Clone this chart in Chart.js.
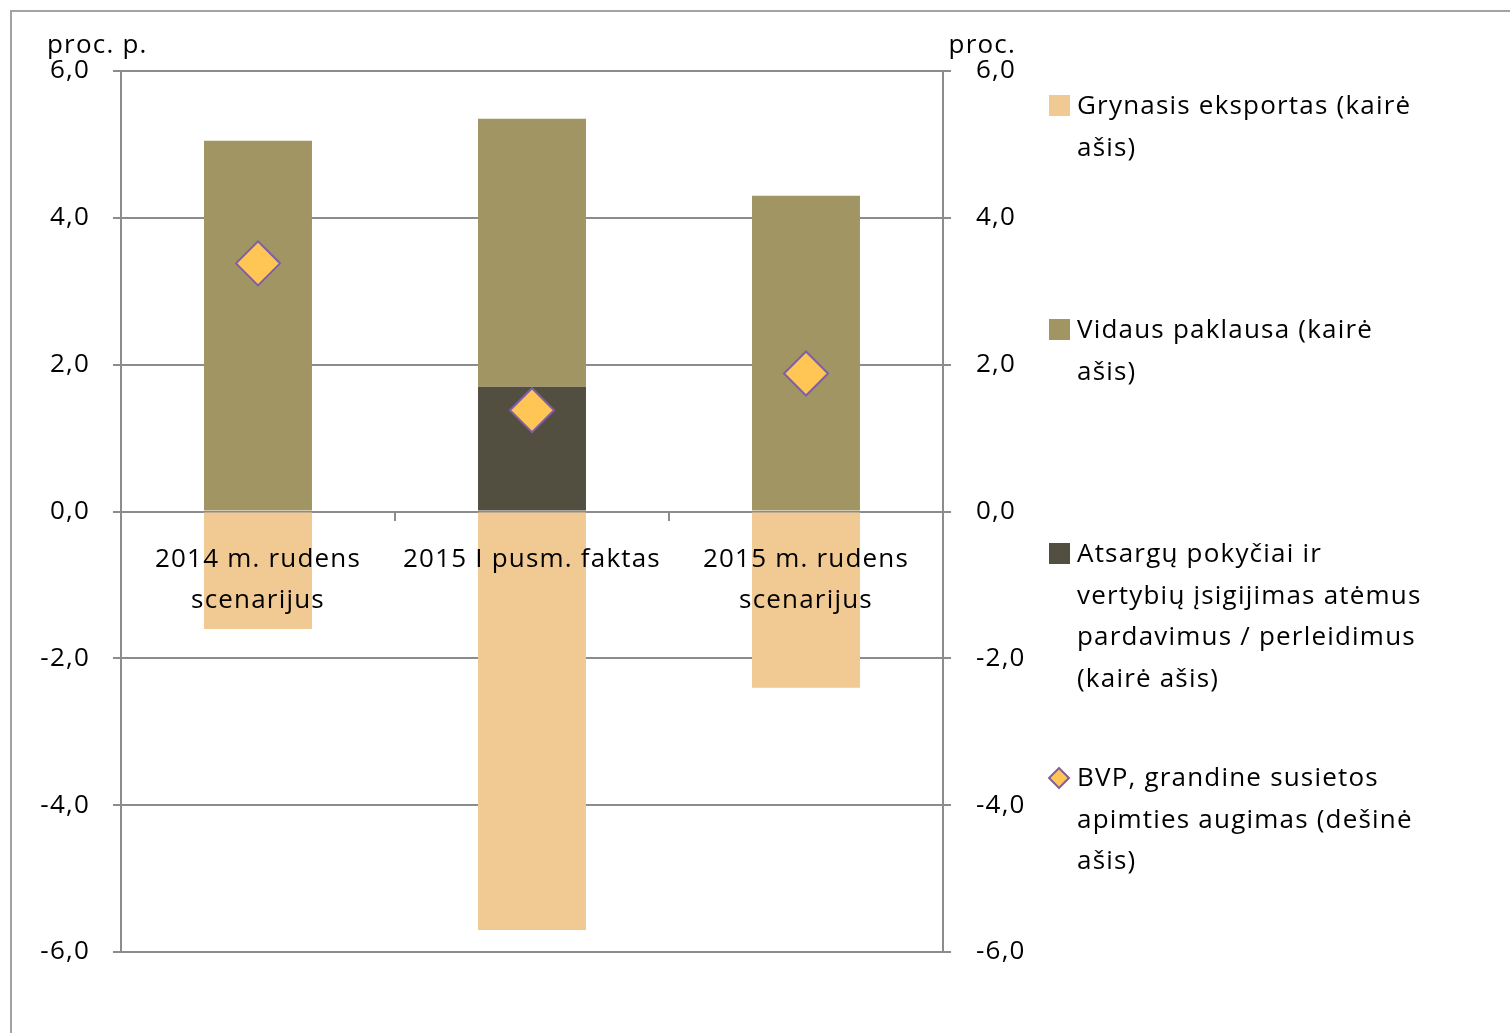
<!DOCTYPE html>
<html lang="lt">
<head>
<meta charset="utf-8">
<script src="https://cdn.jsdelivr.net/npm/chart.js@4.4.1/dist/chart.umd.min.js"></script>
<style>
  html, body { margin: 0; padding: 0; background: #fff; overflow: hidden; }
  body { width: 1510px; height: 1033px; position: relative; font-family: "Open Sans", sans-serif; }
  #frame { position: absolute; left: 10px; top: 10px; width: 1530px; height: 1060px; border: 2px solid #a3a3a3; box-sizing: border-box; }
  #chart { position: absolute; left: 0; top: 0; }
  #legend { position: absolute; left: 1049px; top: 84px; width: 420px; }
  .item { height: 224px; display: flex; align-items: flex-start; }
  .mark { flex: none; width: 21px; height: 21px; margin-top: 11px; margin-right: 7px; }
  .mark.diamond { width: 12px; height: 12px; margin: 14px 10px 0 2px; transform: rotate(45deg); border: 2px solid #7e5fa6; }
  .txt { font-size: 26px; line-height: 41.5px; letter-spacing: 1.2px; color: #000; white-space: pre-line; }
</style>
</head>
<body>
<div id="frame"></div>
<canvas id="chart" width="1510" height="1033"></canvas>
<div id="legend"></div>
<script>
// Duomenys (procentiniai punktai)
const categories = [['2014 m. rudens', 'scenarijus'], '2015 I pusm. faktas', ['2015 m. rudens', 'scenarijus']];
const netExports = [-1.6, -5.7, -2.4];
const domesticDemand = [5.05, 3.65, 4.3];
const inventories = [0, 1.7, 0];
const gdpGrowth = [3.38, 1.38, 1.88];
const yTicks = [-6, -4, -2, 0, 2, 4, 6];

const gridColor = '#8c8c8c';
const fmt = v => v.toFixed(1).replace('.', ',');

Chart.defaults.font.family = '"Open Sans", sans-serif';
Chart.defaults.font.size = 26;
Chart.defaults.color = '#000';

// Šiek tiek platesnis tarpas tarp raidžių (kaip originale)
const spacing = {
  id: 'spacing',
  beforeUpdate(chart) { chart.ctx.letterSpacing = '1.2px'; },
  beforeDraw(chart) { chart.ctx.letterSpacing = '1.2px'; }
};

// Ašių pavadinimai virš ašių
const axisTitles = {
  id: 'axisTitles',
  afterDraw(chart) {
    const { ctx, chartArea } = chart;
    ctx.save();
    ctx.font = '26px "Open Sans"';
    ctx.fillStyle = '#000';
    ctx.textBaseline = 'alphabetic';
    ctx.textAlign = 'left';
    ctx.fillText('proc. p.', chartArea.left - 74, chartArea.top - 18);
    ctx.textAlign = 'right';
    ctx.fillText('proc.', chartArea.right + 73, chartArea.top - 18);
    ctx.restore();
  }
};

function yAxis(position, padding, width, onArea) {
  return {
    position: position,
    min: -6,
    max: 6,
    stacked: position === 'left',
    afterBuildTicks(s) { s.ticks = yTicks.map(v => ({ value: v })); },
    ticks: { padding: padding, callback: fmt },
    grid: { drawOnChartArea: onArea, color: gridColor, lineWidth: 2, tickLength: 8 },
    border: { color: gridColor, width: 2 },
    afterFit(s) { s.width = width; }
  };
}

const chart = new Chart(document.getElementById('chart'), {
  type: 'bar',
  data: {
    labels: categories,
    datasets: [
      {
        type: 'line',
        label: 'BVP, grandine susietos\napimties augimas (dešinė\našis)',
        data: gdpGrowth,
        yAxisID: 'y2',
        showLine: false,
        pointStyle: 'rectRot',
        pointRadius: 22,
        pointBackgroundColor: '#ffc655',
        pointBorderColor: '#7e5fa6',
        pointBorderWidth: 2,
        order: -1
      },
      {
        label: 'Grynasis eksportas (kairė\našis)',
        data: netExports,
        backgroundColor: '#f1c993',
        yAxisID: 'y'
      },
      {
        label: 'Atsargų pokyčiai ir\nvertybių įsigijimas atėmus\npardavimus / perleidimus\n(kairė ašis)',
        data: inventories,
        backgroundColor: '#524f41',
        yAxisID: 'y'
      },
      {
        label: 'Vidaus paklausa (kairė\našis)',
        data: domesticDemand,
        backgroundColor: '#a09563',
        yAxisID: 'y'
      }
    ]
  },
  options: {
    responsive: false,
    animation: false,
    devicePixelRatio: 1,
    layout: { padding: { top: 71, bottom: 81, left: 0, right: 0 } },
    datasets: { bar: { barPercentage: 0.394, categoryPercentage: 1, borderWidth: 0 } },
    plugins: { legend: { display: false }, tooltip: { enabled: false } },
    scales: {
      x: {
        stacked: true,
        position: { y: 0 },
        grid: { drawOnChartArea: false, color: gridColor, lineWidth: 2, tickLength: 8, offset: true },
        border: { color: gridColor, width: 2 },
        // kategorijų pavadinimai piešiami virš stulpelių
        ticks: { z: 1, font: { lineHeight: 1.6 }, padding: 19, maxRotation: 0, autoSkip: false },
        afterFit(s) { s.height = 0; }
      },
      y: yAxis('left', 23, 121, true),
      y2: yAxis('right', 25, 1510 - 943, false)
    }
  },
  plugins: [spacing, axisTitles]
});

// Legenda tokia pat tvarka kaip originale
const legendOrder = [1, 3, 2, 0];
const legend = document.getElementById('legend');
legendOrder.forEach(i => {
  const ds = chart.data.datasets[i];
  const item = document.createElement('div');
  item.className = 'item';
  const mark = document.createElement('span');
  if (ds.type === 'line') {
    mark.className = 'mark diamond';
    mark.style.background = ds.pointBackgroundColor;
  } else {
    mark.className = 'mark';
    mark.style.background = ds.backgroundColor;
  }
  const txt = document.createElement('span');
  txt.className = 'txt';
  txt.textContent = ds.label;
  item.appendChild(mark);
  item.appendChild(txt);
  legend.appendChild(item);
});
</script>
</body>
</html>
